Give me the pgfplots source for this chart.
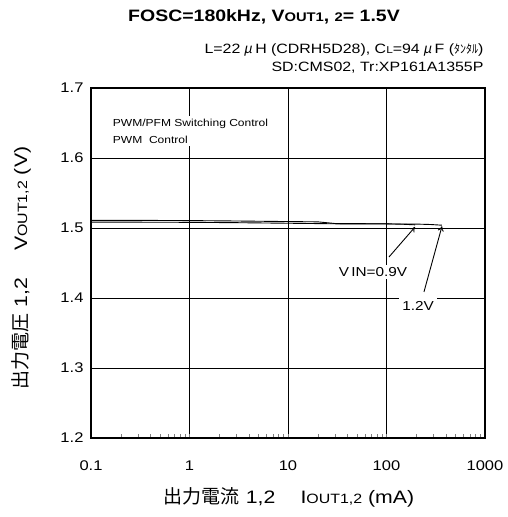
\documentclass[border=0pt]{standalone}
\usepackage{fontspec}
\setmainfont{Liberation Sans}[FakeStretch=1.18]
\newfontfamily\jp{Noto Sans CJK JP}
\newfontfamily\jpsl{Noto Sans CJK JP}[FakeSlant=0.2]
\usepackage{pgfplots}
\usetikzlibrary{arrows.meta}
\pgfplotsset{compat=1.18}
\begin{document}
\begin{tikzpicture}[x=1pt,y=1pt]
\useasboundingbox (0,0) rectangle (507,517);
\begin{axis}[
  at={(91pt,79pt)}, anchor=south west,
  scale only axis, width=394pt, height=350pt,
  xmode=log, xmin=0.1, xmax=1000,
  ymin=1.2, ymax=1.7,
  xtick={0.1,1,10,100,1000},
  xticklabels={0.1,1,10,100,1000},
  ytick={1.2,1.3,1.4,1.5,1.6,1.7},
  yticklabel style={/pgf/number format/fixed,/pgf/number format/precision=1,/pgf/number format/fixed zerofill},
  /pgf/number format/assume math mode=true,
  tick label style={font=\fontsize{14}{16}\selectfont},
  xticklabel style={yshift=-19pt},
  yticklabel style={xshift=-4pt},
  grid=major,
  major grid style={black, line width=0.9pt},
  major tick length=0pt,
  minor tick length=4pt,
  tick align=inside,
  tick pos=left,
  minor y tick num=0,
  axis line style={line width=1.4pt},
  clip=false,
]
% VIN = 0.9V
\addplot[black, line width=0.9pt, no marks] coordinates {
 (0.1,1.5110) (0.3,1.5109) (1,1.5106) (3,1.5100) (10,1.5092) (20,1.5088) (25,1.5075) (30,1.5064) (50,1.5062) (100,1.5060) (150,1.5053) (195,1.5045)};
% VIN = 1.2V
\addplot[black, line width=0.9pt, no marks] coordinates {
 (0.1,1.5084) (0.3,1.5083) (1,1.5081) (3,1.5076) (10,1.5068) (20,1.5063) (30,1.5060) (100,1.5058) (200,1.5056) (280,1.5050) (365,1.5040)};
\node[fill=white, anchor=west, align=left, inner sep=3pt, font=\fontsize{10.2}{16.5}\selectfont] at (axis cs:0.155,1.638) {PWM/PFM Switching Control\\PWM\ \ Control};
\draw[-{To[length=5pt,width=6pt]}, line width=0.9pt] (axis cs:106,1.4586) -- (axis cs:195,1.5015);
\draw[-{To[length=5pt,width=6pt]}, line width=0.9pt] (axis cs:240,1.4086) -- (axis cs:366,1.5025);
\node[fill=white, inner sep=2pt, font=\fontsize{13}{15}\selectfont] at (axis cs:73,1.437) {V\,IN=0.9V};
\node[fill=white, inner sep=3pt, font=\fontsize{13}{15}\selectfont] at (axis cs:209,1.389) {1.2V};
\end{axis}
\node[font=\fontsize{16.5}{18}\selectfont\bfseries] at (264,500) {FOSC=180kHz, V{\fontsize{12.5}{14}\selectfont OUT1}, {\fontsize{12.5}{14}\selectfont 2}= 1.5V};
\node[anchor=east, font=\fontsize{13.5}{15}\selectfont] at (487,467) {L=22\makebox[1.1em]{\jpsl μ}H (CDRH5D28), C{\fontsize{10}{10}\selectfont L}=94\makebox[1.1em]{\jpsl μ}F ({\jp\fontsize{12}{12}\selectfont ﾀﾝﾀﾙ})};
\node[anchor=east, font=\fontsize{13.5}{15}\selectfont] at (487,449) {SD:CMS02, Tr:XP161A1355P};
\node[font=\fontsize{18}{20}\selectfont] at (289,20) {{\jp\fontsize{19}{20}\selectfont 出力電流} 1,2\hspace{1.4em}I{\fontsize{13.5}{15}\selectfont OUT1,2} (mA)};
\node[rotate=90, font=\fontsize{18}{20}\selectfont] at (21,249) {{\jp\fontsize{19}{20}\selectfont 出力電圧} 1,2\hspace{1.5em}V{\fontsize{13.5}{15}\selectfont OUT1,2} (V)};
\end{tikzpicture}
\end{document}
